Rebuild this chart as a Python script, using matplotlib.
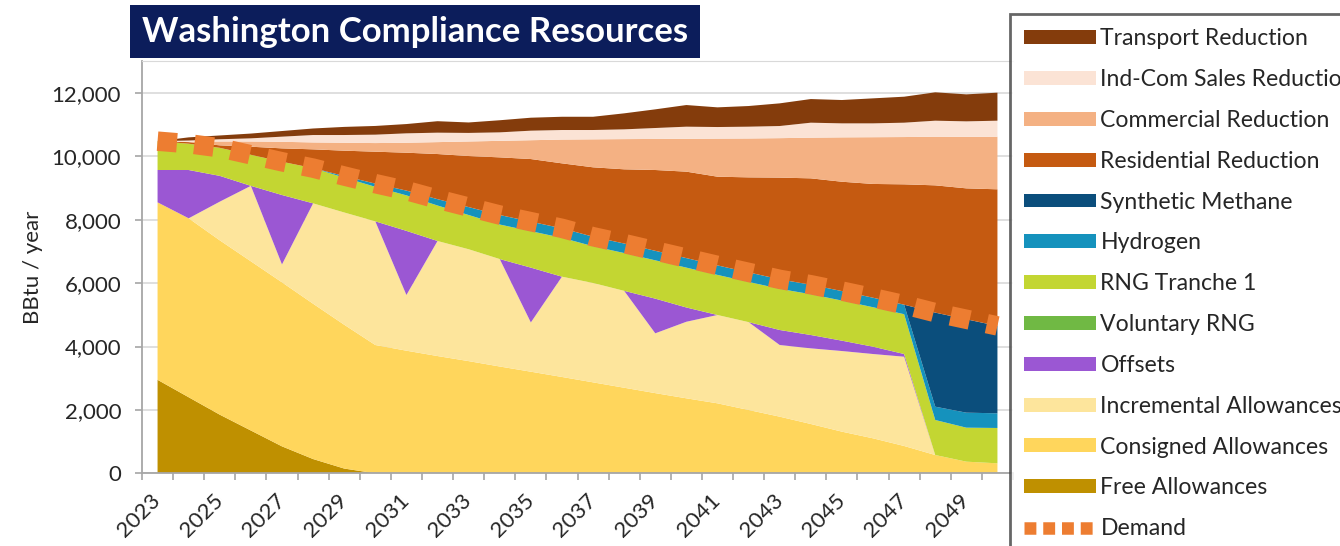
import numpy as np
import matplotlib.pyplot as plt
from matplotlib.patches import Patch, Rectangle
from matplotlib.lines import Line2D
from matplotlib.ticker import FuncFormatter

plt.rcParams['font.family'] = ['Lato', 'DejaVu Sans']

# Data (BBtu / year)
years = list(range(2023, 2051))

free_allow = [2950, 2400, 1850, 1350, 850, 450, 150, 0, 0, 0, 0, 0, 0, 0,
              0, 0, 0, 0, 0, 0, 0, 0, 0, 0, 0, 0, 0, 0]
consigned_allow = [5600, 5646, 5501, 5339, 5176, 4901, 4538, 4048, 3869, 3700, 3540, 3370, 3206, 3040,
                   2870, 2700, 2530, 2366, 2208, 1998, 1787, 1556, 1314, 1104, 862, 577, 367, 315]
incremental_allow = [0, 0, 1220, 2381, 564, 3167, 3542, 3902, 1757, 3630, 3530, 3390, 1554, 3164,
                     3135, 3057, 1887, 2416, 2787, 2772, 2261, 2387, 2544, 2660, 2817, 0, 0, 0]
offsets = [1020, 1524, 814, 0, 2191, 0, 0, 0, 2024, 0, 0, 0, 1730, 0,
           0, 0, 1094, 450, 0, 0, 474, 421, 327, 231, 85, 0, 0, 0]
voluntary_rng = [0, 0, 0, 0, 0, 0, 0, 0, 0, 0, 0, 0, 0, 0,
                 0, 0, 0, 0, 0, 0, 0, 0, 0, 0, 0, 0, 0, 0]
rng_tranche1 = [910, 830, 885, 980, 1049, 1112, 1100, 1090, 1120, 1120, 1080, 1090, 1150, 1226,
                1160, 1193, 1209, 1258, 1265, 1270, 1298, 1286, 1265, 1245, 1256, 1105, 1073, 1115]
hydrogen = [0, 0, 0, 0, 0, 0, 50, 100, 150, 200, 250, 300, 300, 300,
            300, 300, 300, 300, 300, 300, 300, 300, 300, 300, 300, 420, 473, 463]
synthetic_methane = [0, 0, 0, 0, 0, 0, 0, 0, 0, 0, 0, 0, 0, 0,
                     0, 0, 0, 0, 0, 0, 0, 0, 0, 0, 0, 2968, 2947, 2757]
residential_red = [0, 50, 78, 255, 423, 592, 800, 1008, 1196, 1424, 1611, 1819, 1976, 2050,
                   2190, 2342, 2550, 2728, 2799, 2998, 3210, 3357, 3450, 3590, 3798, 4016, 4131, 4311]
commercial_red = [0, 10, 122, 165, 207, 218, 250, 272, 314, 376, 459, 521, 594, 750,
                  883, 953, 980, 1037, 1201, 1227, 1245, 1283, 1400, 1475, 1492, 1535, 1624, 1660]
indcom_red = [0, 40, 70, 99, 162, 234, 244, 265, 297, 298, 270, 268, 301, 302,
              294, 308, 345, 382, 366, 372, 383, 473, 442, 437, 453, 505, 490, 505]
transport_red = [0, 100, 120, 151, 178, 206, 256, 275, 293, 362, 330, 382, 409, 418,
                 418, 505, 589, 683, 621, 652, 715, 746, 736, 789, 820, 895, 852, 884]
demand = [10480, 10400, 10270, 10050, 9830, 9630, 9380, 9140, 8920, 8650, 8400, 8150, 7940, 7730,
          7465, 7250, 7020, 6790, 6560, 6340, 6120, 5950, 5750, 5540, 5320, 5070, 4860, 4650]

labels = ['Free Allowances', 'Consigned Allowances', 'Incremental Allowances', 'Offsets',
          'Voluntary RNG', 'RNG Tranche 1', 'Hydrogen', 'Synthetic Methane',
          'Residential Reduction', 'Commercial Reduction', 'Ind-Com Sales Reduction',
          'Transport Reduction']
colors = ['#BF9000', '#FFD65C', '#FDE59C', '#9B57D3', '#70B944', '#C3D632', '#1592BD',
          '#0B4E7C', '#C55A11', '#F4B183', '#FBE3D5', '#843C0C']
layers = [free_allow, consigned_allow, incremental_allow, offsets, voluntary_rng, rng_tranche1,
          hydrogen, synthetic_methane, residential_red, commercial_red, indcom_red, transport_red]

W, H = 1340, 546
fig = plt.figure(figsize=(W / 100, H / 100), dpi=100)
ax = fig.add_axes([142 / W, 1 - 473.3 / H, (1013 - 142) / W, 412 / H])

# stacked areas + demand line
ax.stackplot(years, *layers, colors=colors, linewidth=0, antialiased=True)
ax.plot(years, demand, color='#ED7D31', lw=14, ls=(0, (1, 0.9)), dash_capstyle='butt')

ax.set_xlim(2022.5, 2050.5)
ax.set_ylim(0, 13000)

# ticks
ax.set_yticks(range(0, 12001, 2000))
ax.yaxis.set_major_formatter(FuncFormatter(lambda v, p: '{:,.0f}'.format(v)))
ax.set_xticks(range(2023, 2050, 2))
ax.set_xticks(np.arange(2022.5, 2051, 1), minor=True)
ax.set_xticklabels([str(y) for y in range(2023, 2050, 2)], rotation=45, ha='right', va='center',
                   rotation_mode='anchor')
ax.tick_params(axis='x', which='major', length=0, pad=17, labelsize=16, labelcolor='#262626')
ax.tick_params(axis='x', which='minor', length=5, width=1.2, color='#A6A6A6', direction='out')
ax.tick_params(axis='y', which='major', length=5, width=1.2, color='#A6A6A6', pad=10,
               labelsize=16, labelcolor='#262626')

ax.yaxis.grid(True, color='#D9D9D9', lw=1.2)
ax.set_axisbelow(True)
ax.set_ylabel('BBtu / year', fontsize=16, color='#262626', labelpad=6)

for s in ['left', 'bottom']:
    ax.spines[s].set_color('#A6A6A6')
    ax.spines[s].set_linewidth(1.3)
ax.spines['top'].set_color('#D9D9D9')
ax.spines['right'].set_visible(False)

# title box
fig.add_artist(Rectangle((130 / W, 1 - 58 / H), 570 / W, 53 / H, transform=fig.transFigure,
                         facecolor='#0C1D5B', edgecolor='none'))
fig.text(415 / W, 1 - 32 / H, 'Washington Compliance Resources', color='white', fontsize=25,
         fontweight='bold', ha='center', va='center')

# legend
handles = [Patch(facecolor=c, edgecolor='none') for c in colors[::-1]]
handles.append(Line2D([], [], color='#ED7D31', lw=9, ls=(0, (0.95, 0.55)), dash_capstyle='butt'))
leg_labels = labels[::-1] + ['Demand']
leg = fig.legend(handles, leg_labels, loc='upper left', bbox_to_anchor=(1010 / W, 1 - 14 / H),
                 frameon=True, fancybox=False, edgecolor='#404040', fontsize=16.6,
                 handlelength=3.1, handleheight=0.55, handletextpad=0.2, labelspacing=0.86,
                 borderpad=0.62, borderaxespad=0)
leg.get_frame().set_linewidth(2)
for t in leg.get_texts():
    t.set_color('#262626')

fig.savefig('out.png', dpi=100)
